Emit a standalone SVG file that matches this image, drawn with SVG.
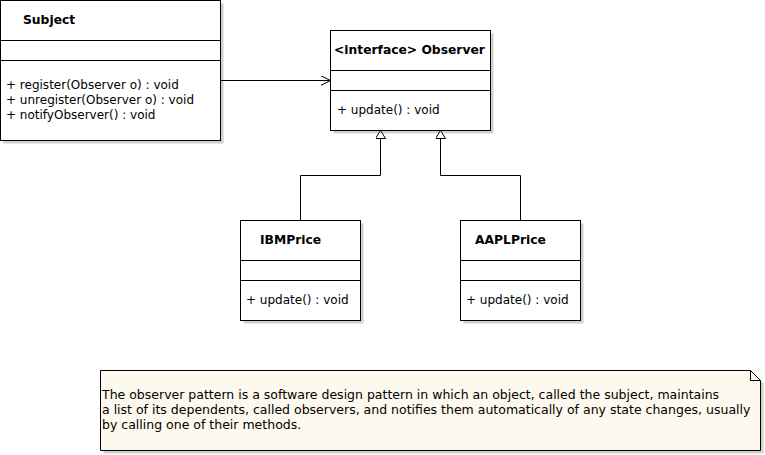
<svg xmlns="http://www.w3.org/2000/svg" width="765" height="455" viewBox="0 0 765 455">
<defs>
<marker id="open" markerWidth="12" markerHeight="12" refX="10" refY="5" orient="auto" markerUnits="userSpaceOnUse">
<path d="M0,0 L10,5 L0,10" fill="none" stroke="#000" stroke-width="1"/>
</marker>
<marker id="tri" markerWidth="12" markerHeight="12" refX="8" refY="5" orient="auto" markerUnits="userSpaceOnUse">
<path d="M0,0 L8,5 L0,10 Z" fill="#fff" stroke="#000" stroke-width="1"/>
</marker>
</defs>
<style>
.box{fill:#fff;stroke:#000;stroke-width:1}
.sh{fill:#d0d0d0}
.ln{stroke:#000;stroke-width:1}
text{font-family:"DejaVu Sans",sans-serif;font-size:12px;fill:#000}
.b{font-weight:bold;font-size:12.3px}
.n{font-size:12.5px}
.c{fill:none;stroke:#000;stroke-width:1}
</style>
<rect width="765" height="455" fill="#fff"/>
<g id="subject">
<rect class="sh" x="3.5" y="3.5" width="220" height="140"/>
<rect class="box" x="0.5" y="0.5" width="220" height="140"/>
<line class="ln" x1="0.5" y1="40.5" x2="220.5" y2="40.5"/>
<line class="ln" x1="0.5" y1="60.5" x2="220.5" y2="60.5"/>
<text class="b" x="23" y="24">Subject</text>
<text x="6" y="89">+ register(Observer o) : void</text>
<text x="6" y="104">+ unregister(Observer o) : void</text>
<text x="6" y="119">+ notifyObserver() : void</text>
</g>
<g id="observer">
<rect class="sh" x="333.5" y="33.5" width="160" height="100"/>
<rect class="box" x="330.5" y="30.5" width="160" height="100"/>
<line class="ln" x1="330.5" y1="70.5" x2="490.5" y2="70.5"/>
<line class="ln" x1="330.5" y1="90.5" x2="490.5" y2="90.5"/>
<text class="b" x="334" y="54">&lt;interface&gt; Observer</text>
<text x="337" y="114">+ update() : void</text>
</g>
<g id="ibmprice">
<rect class="sh" x="243.5" y="223.5" width="120" height="100"/>
<rect class="box" x="240.5" y="220.5" width="120" height="100"/>
<line class="ln" x1="240.5" y1="260.5" x2="360.5" y2="260.5"/>
<line class="ln" x1="240.5" y1="280.5" x2="360.5" y2="280.5"/>
<text class="b" x="260" y="244">IBMPrice</text>
<text x="246" y="304">+ update() : void</text>
</g>
<g id="aaplprice">
<rect class="sh" x="463.5" y="223.5" width="120" height="100"/>
<rect class="box" x="460.5" y="220.5" width="120" height="100"/>
<line class="ln" x1="460.5" y1="260.5" x2="580.5" y2="260.5"/>
<line class="ln" x1="460.5" y1="280.5" x2="580.5" y2="280.5"/>
<text class="b" x="475" y="244">AAPLPrice</text>
<text x="466" y="304">+ update() : void</text>
</g>
<g id="note">
<path class="sh" d="M103.5,373.5 H753.5 L763.5,383.5 V453.5 H103.5 Z"/>
<path d="M100.5,370.5 H750.5 L760.5,380.5 V450.5 H100.5 Z" fill="#fdf9ee" stroke="#000"/>
<path d="M750.5,370.5 V380.5 H760.5" fill="none" stroke="#000"/>
<text class="n" x="102" y="399">The observer pattern is a software design pattern in which an object, called the subject, maintains</text>
<text class="n" x="102" y="414">a list of its dependents, called observers, and notifies them automatically of any state changes, usually</text>
<text class="n" x="102" y="429">by calling one of their methods.</text>
</g>
<g id="connectors">
<path class="c" d="M220.5,80.5 H330.5" marker-end="url(#open)"/>
<path class="c" d="M300.5,220.5 V175.5 H380.5 V130.5" marker-end="url(#tri)"/>
<path class="c" d="M520.5,220.5 V175.5 H440.5 V130.5" marker-end="url(#tri)"/>
</g>
</svg>
